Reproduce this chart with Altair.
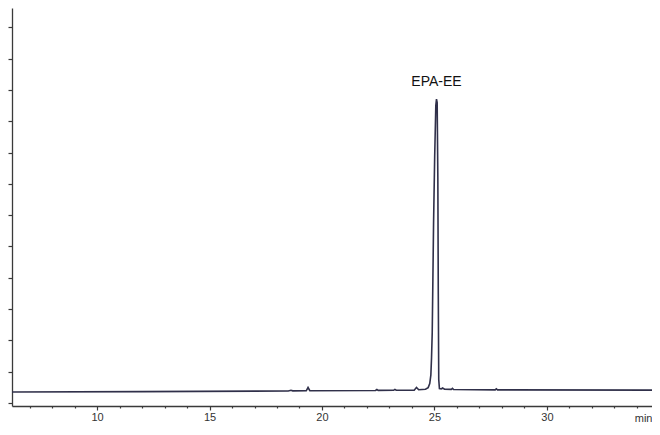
import altair as alt
import pandas as pd

# Retention time (min) and detector signal (arbitrary units)
rt = [6.22, 12.0, 18.50, 18.62, 18.70, 19.30, 19.38, 19.46, 22.38, 22.44, 22.50,
      23.18, 23.24, 23.30, 24.10, 24.20, 24.30, 24.60, 24.72, 24.79, 24.84, 24.87,
      24.90, 24.93, 24.96, 25.01, 25.06, 25.09, 25.12, 25.15, 25.17, 25.19, 25.22,
      25.30, 25.36, 25.45, 25.75, 25.80, 25.85, 27.70, 27.75, 27.80, 34.67]
signal = [3.50, 3.62, 3.85, 4.05, 3.88, 3.90, 4.95, 3.92, 4.00, 4.30, 4.02,
          4.05, 4.35, 4.06, 4.10, 5.00, 4.25, 4.40, 4.90, 6.20, 9.0, 14.5,
          22.4, 39.6, 57.5, 78.9, 95.0, 97.1, 96.0, 72.0, 35.0, 7.5, 4.6,
          4.5, 4.8, 4.4, 4.35, 4.65, 4.3, 4.2, 4.55, 4.2, 4.1]

peak_names = ["EPA-EE"]
peak_rt = [25.09]
peak_height = [97.1]

x_ticks = list(range(7, 35))
y_ticks = list(range(0, 130, 10))

df = pd.DataFrame({"t": rt, "signal": signal})
labels = pd.DataFrame({"t": peak_rt, "signal": peak_height, "name": peak_names})

x_scale = alt.Scale(domain=[6.22, 34.67], nice=False, zero=False)
y_scale = alt.Scale(domain=[-0.96, 126.2], nice=False, zero=False)

axis_color = "#3a3a3a"

x_axis = alt.Axis(
    values=x_ticks,
    tickCount=200,
    format="d",
    labelExpr="datum.value % 5 == 0 ? datum.label : ''",
    tickSize={"condition": {"test": "datum.value % 5 == 0", "value": 4}, "value": 2},
    labelPadding=1,
    labelFont="Liberation Sans",
    labelFontSize=11,
    labelColor="#333333",
    labelFlush=False,
    labelOverlap=False,
    grid=False,
    domainColor=axis_color,
    domainWidth=1.3,
    tickColor=axis_color,
    tickWidth=1.2,
    title="min",
    titleAnchor="end",
    titleAlign="right",
    titleBaseline="alphabetic",
    titleX=640,
    titleY=15,
    titleFont="Liberation Sans",
    titleFontSize=11,
    titleFontWeight="normal",
    titleColor="#333333",
)

y_axis = alt.Axis(
    values=y_ticks,
    tickCount=200,
    labels=False,
    title=None,
    grid=False,
    tickSize=4,
    domainColor=axis_color,
    domainWidth=1.3,
    tickColor=axis_color,
    tickWidth=1.2,
)

line = alt.Chart(df).mark_line(color="#30304a", strokeWidth=1.6).encode(
    x=alt.X("t:Q", scale=x_scale, axis=x_axis),
    y=alt.Y("signal:Q", scale=y_scale, axis=y_axis),
)

text = alt.Chart(labels).mark_text(
    dy=-13, baseline="alphabetic", align="center",
    font="Liberation Sans", fontSize=14, color="#111111",
).encode(
    x=alt.X("t:Q", scale=x_scale),
    y=alt.Y("signal:Q", scale=y_scale),
    text="name:N",
)

chart = alt.layer(line, text).properties(
    width=640,
    height=398,
    autosize="none",
    padding={"left": 4, "top": 0, "right": 0, "bottom": 16},
    background="white",
).configure_view(stroke=None)

chart.save("out.html", embed_options={"renderer": "svg", "actions": False})
